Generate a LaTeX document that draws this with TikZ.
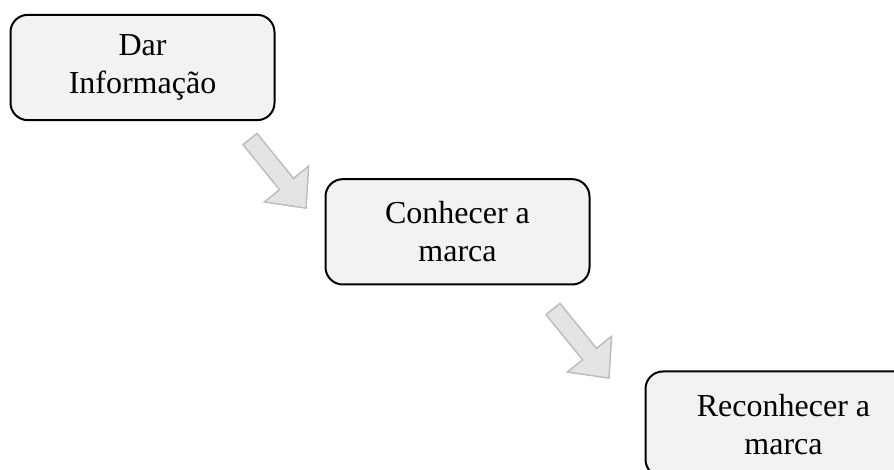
\documentclass[tikz,border=0pt]{standalone}
\usepackage{fontspec}
\setmainfont{Liberation Serif}
\usetikzlibrary{positioning}

\definecolor{boxfill}{HTML}{F2F2F2}
\definecolor{arrowfill}{HTML}{E4E4E4}
\definecolor{arrowline}{HTML}{BDBDBD}

\tikzset{
  stagebox/.style={draw,line width=1.5pt,fill=boxfill,rounded corners=13pt,
    minimum width=198pt,minimum height=79pt,align=center,inner sep=0pt,
    font=\fontsize{24pt}{28.5pt}\selectfont},
  % block arrow, drawn along +x from its tail
  bigarrow/.pic={
    \draw[line width=1.1pt,draw=arrowline,fill=arrowfill,line join=miter]
      (0,-9)--(58,-9)--(58,-28.5)--(89,0)--(58,28.5)--(58,9)--(0,9)--cycle;
  }
}

\begin{document}
\begin{tikzpicture}[x=0.75pt,y=0.75pt]
    \clip (0,0) rectangle (894,470);
    \node[stagebox] (info) at (142.5,402.5) {Dar\\Informação};
    \node[stagebox,below right=42.75pt and 36.75pt of info.south east,anchor=north west] (know) {Conhecer a\\marca};
    \node[stagebox,minimum width=207pt,below right=63.75pt and 40.5pt of know.south east,anchor=north west] (recog) {Reconhecer a\\marca};
    \pic[rotate=-51] at (250,331) {bigarrow};
    \pic[rotate=-51] at (553,161) {bigarrow};
\end{tikzpicture}
\end{document}
